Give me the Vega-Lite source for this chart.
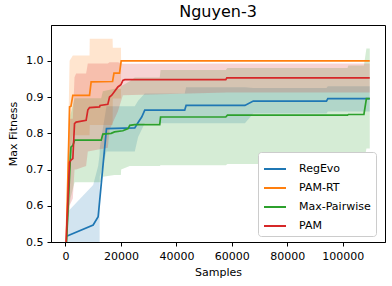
{
  "$schema": "https://vega.github.io/schema/vega-lite/v6.json",
  "width": 334,
  "height": 217,
  "autosize": {"type": "none"},
  "padding": {"left": 51, "top": 25, "right": 7, "bottom": 44},
  "background": "white",
  "title": {"text": "Nguyen-3", "fontSize": 16, "font": "DejaVu Sans", "fontWeight": "normal", "offset": 5, "frame": "group", "anchor": "middle", "color": "black"},
  "config": {
    "view": {"stroke": "black", "strokeWidth": 1},
    "axis": {"labelFont": "DejaVu Sans", "titleFont": "DejaVu Sans", "labelFontSize": 11, "titleFontSize": 11, "titleFontWeight": "normal", "labelColor": "black", "titleColor": "black", "tickColor": "black", "domainColor": "black", "tickSize": 4, "grid": false},
    "legend": {"labelFont": "DejaVu Sans", "labelFontSize": 11, "labelColor": "black"}
  },
  "datasets": {
    "bands": [
      {"s": "RegEvo", "x": 400, "lo": 0.45, "hi": 0.58},
      {"s": "RegEvo", "x": 10000, "lo": 0.44, "hi": 0.657},
      {"s": "RegEvo", "x": 11800, "lo": 0.43, "hi": 0.71},
      {"s": "RegEvo", "x": 12300, "lo": 0.43, "hi": 0.74},
      {"s": "RegEvo", "x": 12380, "lo": 0.68, "hi": 0.76},
      {"s": "RegEvo", "x": 14800, "lo": 0.75, "hi": 0.875},
      {"s": "RegEvo", "x": 25000, "lo": 0.75, "hi": 0.875},
      {"s": "RegEvo", "x": 26200, "lo": 0.79, "hi": 0.89},
      {"s": "RegEvo", "x": 28600, "lo": 0.828, "hi": 0.91},
      {"s": "RegEvo", "x": 43000, "lo": 0.828, "hi": 0.91},
      {"s": "RegEvo", "x": 43500, "lo": 0.828, "hi": 0.927},
      {"s": "RegEvo", "x": 64700, "lo": 0.828, "hi": 0.927},
      {"s": "RegEvo", "x": 67700, "lo": 0.855, "hi": 0.925},
      {"s": "RegEvo", "x": 94100, "lo": 0.855, "hi": 0.925},
      {"s": "RegEvo", "x": 94600, "lo": 0.86, "hi": 0.93},
      {"s": "RegEvo", "x": 109700, "lo": 0.86, "hi": 0.93},

      {"s": "PAM-RT", "x": 300, "lo": 0.5, "hi": 0.5},
      {"s": "PAM-RT", "x": 1500, "lo": 0.75, "hi": 1.0},
      {"s": "PAM-RT", "x": 2670, "lo": 0.795, "hi": 1.015},
      {"s": "PAM-RT", "x": 8690, "lo": 0.795, "hi": 1.015},
      {"s": "PAM-RT", "x": 8770, "lo": 0.823, "hi": 1.061},
      {"s": "PAM-RT", "x": 17000, "lo": 0.823, "hi": 1.061},
      {"s": "PAM-RT", "x": 17080, "lo": 0.896, "hi": 1.036},
      {"s": "PAM-RT", "x": 20000, "lo": 0.896, "hi": 1.036},
      {"s": "PAM-RT", "x": 20080, "lo": 1.0, "hi": 1.0},
      {"s": "PAM-RT", "x": 109700, "lo": 1.0, "hi": 1.0},

      {"s": "Max-Pairwise", "x": 400, "lo": 0.5, "hi": 0.5},
      {"s": "Max-Pairwise", "x": 1800, "lo": 0.62, "hi": 0.85},
      {"s": "Max-Pairwise", "x": 3300, "lo": 0.665, "hi": 0.897},
      {"s": "Max-Pairwise", "x": 12900, "lo": 0.665, "hi": 0.897},
      {"s": "Max-Pairwise", "x": 13500, "lo": 0.68, "hi": 0.916},
      {"s": "Max-Pairwise", "x": 17700, "lo": 0.685, "hi": 0.923},
      {"s": "Max-Pairwise", "x": 20000, "lo": 0.685, "hi": 0.923},
      {"s": "Max-Pairwise", "x": 20080, "lo": 0.70, "hi": 0.93},
      {"s": "Max-Pairwise", "x": 23200, "lo": 0.71, "hi": 0.944},
      {"s": "Max-Pairwise", "x": 25000, "lo": 0.71, "hi": 0.954},
      {"s": "Max-Pairwise", "x": 34000, "lo": 0.71, "hi": 0.954},
      {"s": "Max-Pairwise", "x": 34300, "lo": 0.712, "hi": 0.975},
      {"s": "Max-Pairwise", "x": 57800, "lo": 0.712, "hi": 0.975},
      {"s": "Max-Pairwise", "x": 58400, "lo": 0.715, "hi": 0.98},
      {"s": "Max-Pairwise", "x": 101700, "lo": 0.715, "hi": 0.98},
      {"s": "Max-Pairwise", "x": 102000, "lo": 0.717, "hi": 0.987},
      {"s": "Max-Pairwise", "x": 107600, "lo": 0.717, "hi": 0.987},
      {"s": "Max-Pairwise", "x": 108500, "lo": 0.758, "hi": 1.034},
      {"s": "Max-Pairwise", "x": 109700, "lo": 0.758, "hi": 1.034},

      {"s": "PAM", "x": 250, "lo": 0.5, "hi": 0.5},
      {"s": "PAM", "x": 1480, "lo": 0.6, "hi": 0.84},
      {"s": "PAM", "x": 2670, "lo": 0.62, "hi": 0.84},
      {"s": "PAM", "x": 3280, "lo": 0.70, "hi": 0.955},
      {"s": "PAM", "x": 3860, "lo": 0.70, "hi": 0.965},
      {"s": "PAM", "x": 7460, "lo": 0.71, "hi": 0.965},
      {"s": "PAM", "x": 8070, "lo": 0.75, "hi": 0.993},
      {"s": "PAM", "x": 15280, "lo": 0.76, "hi": 0.993},
      {"s": "PAM", "x": 15900, "lo": 0.81, "hi": 0.996},
      {"s": "PAM", "x": 18900, "lo": 0.86, "hi": 0.996},
      {"s": "PAM", "x": 20700, "lo": 0.905, "hi": 0.992},
      {"s": "PAM", "x": 58200, "lo": 0.913, "hi": 0.993},
      {"s": "PAM", "x": 109700, "lo": 0.913, "hi": 0.993}
    ],
    "lines": [
      {"s": "RegEvo", "x": 400, "y": 0.516},
      {"s": "RegEvo", "x": 10000, "y": 0.547},
      {"s": "RegEvo", "x": 11800, "y": 0.57},
      {"s": "RegEvo", "x": 14800, "y": 0.813},
      {"s": "RegEvo", "x": 25000, "y": 0.815},
      {"s": "RegEvo", "x": 26200, "y": 0.83},
      {"s": "RegEvo", "x": 27500, "y": 0.845},
      {"s": "RegEvo", "x": 28600, "y": 0.864},
      {"s": "RegEvo", "x": 43000, "y": 0.864},
      {"s": "RegEvo", "x": 43500, "y": 0.877},
      {"s": "RegEvo", "x": 64700, "y": 0.877},
      {"s": "RegEvo", "x": 67700, "y": 0.889},
      {"s": "RegEvo", "x": 94100, "y": 0.889},
      {"s": "RegEvo", "x": 94600, "y": 0.896},
      {"s": "RegEvo", "x": 109700, "y": 0.896},

      {"s": "PAM-RT", "x": 300, "y": 0.5},
      {"s": "PAM-RT", "x": 1500, "y": 0.873},
      {"s": "PAM-RT", "x": 2000, "y": 0.875},
      {"s": "PAM-RT", "x": 2670, "y": 0.905},
      {"s": "PAM-RT", "x": 8690, "y": 0.905},
      {"s": "PAM-RT", "x": 9270, "y": 0.942},
      {"s": "PAM-RT", "x": 17000, "y": 0.943},
      {"s": "PAM-RT", "x": 17500, "y": 0.966},
      {"s": "PAM-RT", "x": 19500, "y": 0.966},
      {"s": "PAM-RT", "x": 20100, "y": 1.0},
      {"s": "PAM-RT", "x": 109700, "y": 1.0},

      {"s": "Max-Pairwise", "x": 400, "y": 0.5},
      {"s": "Max-Pairwise", "x": 1800, "y": 0.735},
      {"s": "Max-Pairwise", "x": 2000, "y": 0.762},
      {"s": "Max-Pairwise", "x": 2700, "y": 0.767},
      {"s": "Max-Pairwise", "x": 3300, "y": 0.781},
      {"s": "Max-Pairwise", "x": 12900, "y": 0.781},
      {"s": "Max-Pairwise", "x": 13500, "y": 0.798},
      {"s": "Max-Pairwise", "x": 16500, "y": 0.8},
      {"s": "Max-Pairwise", "x": 17700, "y": 0.804},
      {"s": "Max-Pairwise", "x": 20700, "y": 0.807},
      {"s": "Max-Pairwise", "x": 22600, "y": 0.813},
      {"s": "Max-Pairwise", "x": 23200, "y": 0.822},
      {"s": "Max-Pairwise", "x": 25000, "y": 0.824},
      {"s": "Max-Pairwise", "x": 34000, "y": 0.824},
      {"s": "Max-Pairwise", "x": 34300, "y": 0.845},
      {"s": "Max-Pairwise", "x": 57800, "y": 0.845},
      {"s": "Max-Pairwise", "x": 58400, "y": 0.85},
      {"s": "Max-Pairwise", "x": 101700, "y": 0.85},
      {"s": "Max-Pairwise", "x": 102000, "y": 0.852},
      {"s": "Max-Pairwise", "x": 107600, "y": 0.852},
      {"s": "Max-Pairwise", "x": 108500, "y": 0.896},
      {"s": "Max-Pairwise", "x": 109700, "y": 0.896},

      {"s": "PAM", "x": 250, "y": 0.5},
      {"s": "PAM", "x": 1480, "y": 0.72},
      {"s": "PAM", "x": 2000, "y": 0.726},
      {"s": "PAM", "x": 2670, "y": 0.73},
      {"s": "PAM", "x": 3280, "y": 0.827},
      {"s": "PAM", "x": 3860, "y": 0.831},
      {"s": "PAM", "x": 7460, "y": 0.836},
      {"s": "PAM", "x": 8070, "y": 0.864},
      {"s": "PAM", "x": 8690, "y": 0.871},
      {"s": "PAM", "x": 12300, "y": 0.873},
      {"s": "PAM", "x": 12500, "y": 0.877},
      {"s": "PAM", "x": 15280, "y": 0.88},
      {"s": "PAM", "x": 15900, "y": 0.9},
      {"s": "PAM", "x": 16700, "y": 0.905},
      {"s": "PAM", "x": 18900, "y": 0.928},
      {"s": "PAM", "x": 20000, "y": 0.934},
      {"s": "PAM", "x": 20700, "y": 0.946},
      {"s": "PAM", "x": 21400, "y": 0.948},
      {"s": "PAM", "x": 57800, "y": 0.948},
      {"s": "PAM", "x": 58200, "y": 0.953},
      {"s": "PAM", "x": 109700, "y": 0.953}
    ]
  },
  "layer": [
    {
      "data": {"name": "bands"},
      "mark": {"type": "area", "interpolate": "linear", "fillOpacity": 0.2, "clip": true},
      "encoding": {
        "x": {"field": "x", "type": "quantitative", "scale": {"domain": [-5200, 115200], "nice": false, "zero": false},
              "axis": {"values": [0, 20000, 40000, 60000, 80000, 100000], "format": "d", "title": "Samples", "labelPadding": 4, "titlePadding": 5}},
        "y": {"field": "hi", "type": "quantitative", "scale": {"domain": [0.5, 1.099], "nice": false, "zero": false},
              "axis": {"values": [0.5, 0.6, 0.7, 0.8, 0.9, 1.0], "format": ".1f", "title": "Max Fitness", "labelPadding": 4, "titlePadding": 7}},
        "y2": {"field": "lo"},
        "color": {"field": "s", "type": "nominal",
                 "scale": {"domain": ["RegEvo", "PAM-RT", "Max-Pairwise", "PAM"], "range": ["#1f77b4", "#ff7f0e", "#2ca02c", "#d62728"]},
                 "legend": {"title": null, "orient": "none", "legendX": 207, "legendY": 127, "symbolType": "stroke", "symbolSize": 484, "symbolStrokeWidth": 2, "symbolOpacity": 1, "symbolFillOpacity": 1, "fillColor": "white", "strokeColor": "#cccccc", "cornerRadius": 3, "padding": 5, "labelOffset": 12, "rowPadding": 2, "labelLimit": 200}}
      }
    },
    {
      "data": {"name": "lines"},
      "mark": {"type": "line", "interpolate": "linear", "strokeWidth": 1.7, "clip": true},
      "encoding": {
        "x": {"field": "x", "type": "quantitative"},
        "y": {"field": "y", "type": "quantitative"},
        "color": {"field": "s", "type": "nominal"}
      }
    }
  ]
}
